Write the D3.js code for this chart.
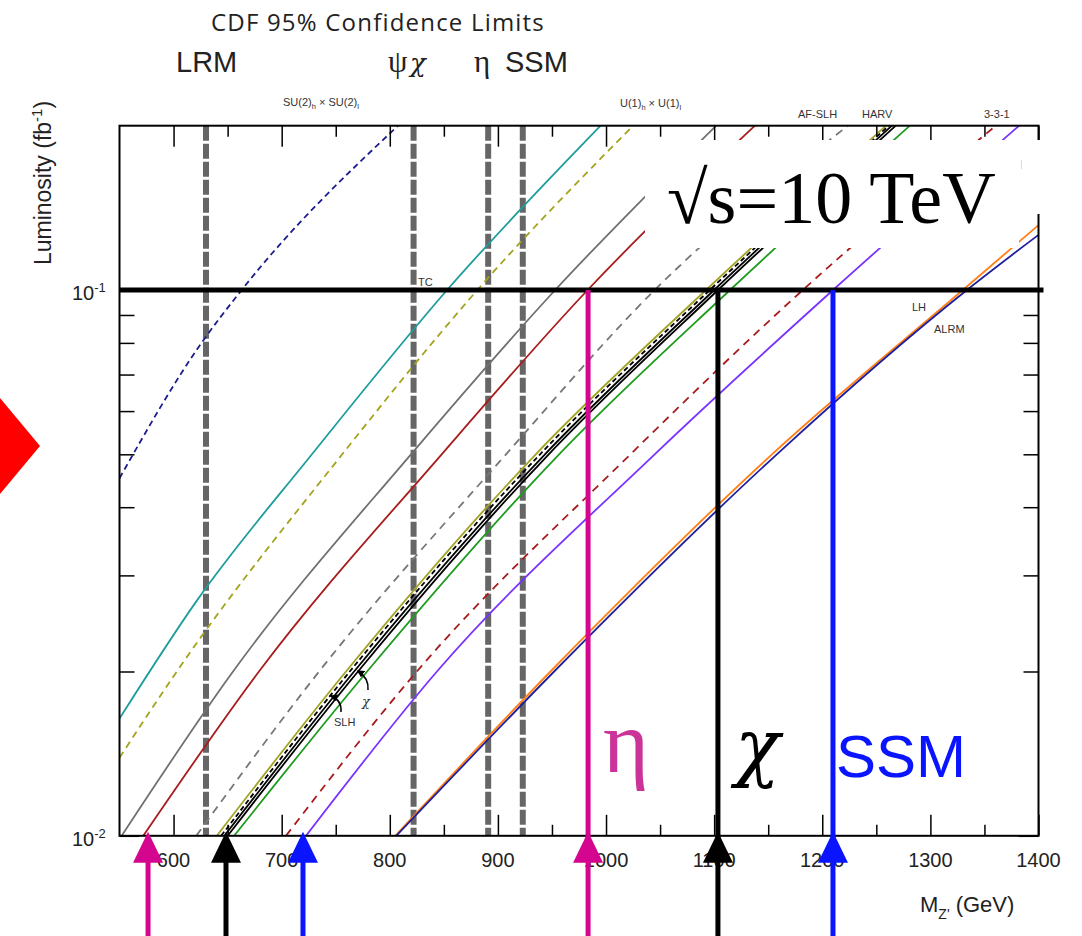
<!DOCTYPE html>
<html>
<head>
<meta charset="utf-8">
<script src="https://cdn.jsdelivr.net/npm/d3@7"></script>
<style>
  body { margin: 0; background: #fff; }
  svg { display: block; }
</style>
</head>
<body>
<svg id="chart" width="1082" height="936"></svg>
<script>
'use strict';

// axis values
const massDomain = [550, 1400];
const lumiDomain = [0.01, 0.2];
const massTicks = [600, 700, 800, 900, 1000, 1100, 1200, 1300, 1400];
const massMinor = [650, 750, 850, 950, 1050, 1150, 1250, 1350];
const lumiTicks = [0.01, 0.1];
const lumiMinor = [0.02, 0.03, 0.04, 0.05, 0.06, 0.07, 0.08, 0.09];

// CDF 95% limits (GeV)
const cdfLimits = [630, 822, 891, 923];

// reach curves, [mass GeV, luminosity fb^-1]
const navyDashed = [[550, 0.0452], [624.5, 0.0793], [663, 0.1], [807.6, 0.2]];
const cyanTC = [[550, 0.0164], [621.7, 0.027], [728, 0.05], [853, 0.1], [995, 0.2]];
const oliveDashed = [[550, 0.0139], [603, 0.02], [756, 0.05], [881, 0.1], [1025, 0.2]];
const graySolid = [[552, 0.01], [655, 0.02], [819.6, 0.05], [953, 0.1], [1101.7, 0.2]];
const redSolid = [[572, 0.01], [679, 0.02], [848, 0.05], [983, 0.1], [1137.7, 0.2]];
const grayDashed = [[621, 0.01], [734.6, 0.02], [907.5, 0.05], [1045, 0.1], [1223.8, 0.2]];
const oliveSolid = [[640, 0.01], [759.5, 0.02], [935, 0.05], [1092.5, 0.1], [1259, 0.2]];
const blackDashed = [[644, 0.01], [763, 0.02], [939, 0.05], [1096, 0.1], [1261.6, 0.2]];
const slhSolid = [[647, 0.01], [767, 0.02], [943.5, 0.05], [1100, 0.1], [1264.4, 0.2]];
const chiSolid = [[650, 0.01], [770.6, 0.02], [947, 0.05], [1103.6, 0.1], [1268, 0.2]];
const greenSolid = [[656, 0.01], [779, 0.02], [956.6, 0.05], [1114.7, 0.1], [1281, 0.2]];
const redDashed = [[704, 0.01], [825, 0.02], [1022.6, 0.05], [1182, 0.1], [1360.6, 0.2]];
const purpleSolid = [[722.5, 0.01], [843.6, 0.02], [1045, 0.05], [1210, 0.1], [1382, 0.2]];
const orangeLH = [[805, 0.01], [948.6, 0.02], [1153.5, 0.05], [1330, 0.1], [1400, 0.1315]];
const navyALRM = [[806, 0.01], [952, 0.02], [1158, 0.05], [1333.8, 0.1], [1400, 0.1262]];

// discovery reach at 0.1 and 0.01 fb^-1
const reachNames = ["eta", "chi", "ssm"];
const reachAt01 = [983.4, 1103.5, 1209.9];
const reachAt001 = [576.4, 648.5, 719.7];

// styles
const curveStyles = [
	{pts: navyDashed, color: "#1c1c8e", dash: "6 4"},
	{pts: cyanTC, color: "#1f9c9c", dash: null},
	{pts: oliveDashed, color: "#a3a31e", dash: "7 5"},
	{pts: graySolid, color: "#707070", dash: null},
	{pts: redSolid, color: "#a81c1c", dash: null},
	{pts: grayDashed, color: "#777777", dash: "8 6"},
	{pts: oliveSolid, color: "#a3a325", dash: null},
	{pts: blackDashed, color: "#000000", dash: "5 3"},
	{pts: slhSolid, color: "#000000", dash: null},
	{pts: chiSolid, color: "#000000", dash: null},
	{pts: greenSolid, color: "#1e9c1e", dash: null},
	{pts: redDashed, color: "#a81c1c", dash: "8 6"},
	{pts: purpleSolid, color: "#7a33ff", dash: null},
	{pts: orangeLH, color: "#ff7f15", dash: null},
	{pts: navyALRM, color: "#1f1f9e", dash: null}
];
const reachColors = ["#d4058f", "#000000", "#0a14ff"];

const SANS = "'Liberation Sans', Arial, sans-serif";
const SERIF = "'Liberation Serif', 'Times New Roman', serif";
const GREEK = "'DejaVu Serif', serif";

const svg = d3.select("#chart");
svg.append("rect").attr("width", 1082).attr("height", 936).attr("fill", "#fff");

const x = d3.scaleLinear().domain(massDomain).range([119.5, 1038.5]);
const y = d3.scaleLog().domain(lumiDomain).range([835.8, 125.7]);
const x0 = x.range()[0], x1 = x.range()[1];
const yb = y.range()[0], yt = y.range()[1];

// red marker at left edge
svg.append("path")
	.attr("d", "M0,398 L40,446 L0,494 Z")
	.attr("fill", "#ff0000");

svg.append("clipPath").attr("id", "plot")
	.append("rect").attr("x", x0).attr("y", yt).attr("width", x1 - x0).attr("height", yb - yt);

const plot = svg.append("g").attr("clip-path", "url(#plot)");

// CDF limit lines
plot.selectAll("line.cdf").data(cdfLimits).join("line")
	.attr("class", "cdf")
	.attr("x1", d => x(d)).attr("x2", d => x(d))
	.attr("y1", yt).attr("y2", yb)
	.attr("stroke", "#666").attr("stroke-width", 6)
	.attr("stroke-dasharray", "15 3");

// reach curves
const line = d3.line()
	.x(d => x(d[0]))
	.y(d => y(d[1]))
	.curve(d3.curveMonotoneX);

plot.selectAll("path.reach").data(curveStyles).join("path")
	.attr("class", "reach")
	.attr("d", d => line(d.pts))
	.attr("fill", "none")
	.attr("stroke", d => d.color)
	.attr("stroke-width", 1.8)
	.attr("stroke-dasharray", d => d.dash);

// axes ticks (inward)
const tickAxis = (axis, scale, values, size) => axis(scale).tickValues(values).tickSize(size).tickFormat("");
const axes = svg.append("g");
const addAxis = (axis, values, size, tx, ty, scale) => {
	const g = axes.append("g").attr("transform", `translate(${tx},${ty})`)
		.call(tickAxis(axis, scale, values, size));
	g.select(".domain").remove();
	g.selectAll("line").attr("stroke", "#000").attr("stroke-width", 1.5);
};
addAxis(d3.axisBottom, massTicks, -21, 0, yb, x);
addAxis(d3.axisBottom, massMinor, -11, 0, yb, x);
addAxis(d3.axisTop, massTicks, -21, 0, yt, x);
addAxis(d3.axisTop, massMinor, -11, 0, yt, x);
addAxis(d3.axisLeft, lumiTicks, -20, x0, 0, y);
addAxis(d3.axisLeft, lumiMinor, -15, x0, 0, y);
addAxis(d3.axisRight, lumiTicks, -20, x1, 0, y);
addAxis(d3.axisRight, lumiMinor, -15, x1, 0, y);

svg.append("rect")
	.attr("x", x0).attr("y", yt).attr("width", x1 - x0).attr("height", yb - yt)
	.attr("fill", "none").attr("stroke", "#000").attr("stroke-width", 2);

// thick 0.1 fb^-1 line
svg.append("line")
	.attr("x1", x0).attr("x2", x1 + 5)
	.attr("y1", y(0.1)).attr("y2", y(0.1))
	.attr("stroke", "#000").attr("stroke-width", 5);

// white box with energy label
svg.append("rect").attr("x", 645).attr("y", 140).attr("width", 374).attr("height", 108).attr("fill", "#fff");
svg.append("rect").attr("x", 1018).attr("y", 140).attr("width", 28).attr("height", 74).attr("fill", "#fff");
svg.append("clipPath").attr("id", "mclip")
	.append("rect").attr("x", 1021).attr("y", 150).attr("width", 10).attr("height", 30);
svg.append("text").attr("x", 1012).attr("y", 169)
	.attr("clip-path", "url(#mclip)")
	.attr("font-family", SANS).attr("font-size", 12).attr("fill", "#444").text("M");
svg.append("text").attr("x", 667).attr("y", 223)
	.attr("font-family", SERIF).attr("font-size", 74).attr("fill", "#000")
	.text("\u221As=10 TeV");

// tick labels
svg.append("g").selectAll("text").data(massTicks).join("text")
	.attr("x", d => x(d)).attr("y", 867)
	.attr("text-anchor", "middle")
	.attr("font-family", SANS).attr("font-size", 20).attr("fill", "#222")
	.text(d => d);

const ylab = svg.append("g").selectAll("text").data(lumiTicks).join("text")
	.attr("x", 72).attr("y", d => y(d) + 10)
	.attr("font-family", SANS).attr("font-size", 20).attr("fill", "#222");
ylab.append("tspan").text("10");
ylab.append("tspan").attr("dy", -8).attr("font-size", 13).text(d => d === 0.1 ? "-1" : "-2");

const ytitle = svg.append("text")
	.attr("transform", "translate(51,183) rotate(-90)")
	.attr("text-anchor", "middle")
	.attr("font-family", SANS).attr("font-size", 23).attr("fill", "#222");
ytitle.append("tspan").text("Luminosity (fb");
ytitle.append("tspan").attr("dy", -9).attr("font-size", 15).text("-1");
ytitle.append("tspan").attr("dy", 9).text(")");

const xtitle = svg.append("text").attr("x", 920).attr("y", 912)
	.attr("font-family", SANS).attr("font-size", 22).attr("fill", "#222");
xtitle.append("tspan").text("M");
xtitle.append("tspan").attr("dy", 7).attr("font-size", 14).text("Z'");
xtitle.append("tspan").attr("dy", -7).text(" (GeV)");

// header
svg.append("text").attr("x", 378).attr("y", 31).attr("text-anchor", "middle")
	.attr("font-family", "'Open Sans', sans-serif").attr("font-size", 24).attr("fill", "#222")
	.attr("letter-spacing", 1.2)
	.text("CDF 95% Confidence Limits");
const hdr = (tx, txt, fam, size, style) => svg.append("text").attr("x", tx).attr("y", 72)
	.attr("font-family", fam).attr("font-size", size).attr("fill", "#222")
	.attr("font-style", style || "normal").text(txt);
hdr(388, "\u03C8", SERIF, 31);
hdr(410, "\u03C7", GREEK, 26, "italic");
hdr(474, "\u03B7", SERIF, 31);
hdr(176, "LRM", SANS, 29);
hdr(505, "SSM", SANS, 29);

// small model labels
const small = (tx, ty, parts) => {
	const t = svg.append("text").attr("x", tx).attr("y", ty)
		.attr("font-family", SANS).attr("font-size", 11).attr("fill", "#333");
	parts.forEach(p => {
		const s = t.append("tspan").text(p[0]);
		if (p[1] === "sub") s.attr("dy", 3).attr("font-size", 7.5);
		if (p[1] === "up") s.attr("dy", -3);
	});
	return t;
};
small(283, 106, [["SU(2)"], ["h", "sub"], [" \u00D7 SU(2)", "up"], ["l", "sub"]]);
small(620, 107, [["U(1)"], ["h", "sub"], [" \u00D7 U(1)", "up"], ["l", "sub"]]);
small(798, 118, [["AF-SLH"]]);
small(862, 118, [["HARV"]]);
small(984, 118, [["3-3-1"]]);
small(418, 286, [["TC"]]);
small(912, 311, [["LH"]]);
small(934, 333, [["ALRM"]]);
small(334, 726, [["SLH"]]);
svg.append("text").attr("x", 362).attr("y", 706)
	.attr("font-family", GREEK).attr("font-style", "italic").attr("font-size", 13).attr("fill", "#333").text("\u03C7");

// curved pointer arrows
svg.append("defs").append("marker").attr("id", "ah")
	.attr("viewBox", "0 0 10 10").attr("refX", 8).attr("refY", 5)
	.attr("markerWidth", 5).attr("markerHeight", 5).attr("orient", "auto")
	.append("path").attr("d", "M0,0 L10,5 L0,10 Z").attr("fill", "#000");
svg.append("path").attr("d", "M341,712 Q342,700 331,696")
	.attr("fill", "none").attr("stroke", "#000").attr("stroke-width", 1.5).attr("marker-end", "url(#ah)");
svg.append("path").attr("d", "M368,690 Q369,678 358,671")
	.attr("fill", "none").attr("stroke", "#000").attr("stroke-width", 1.5).attr("marker-end", "url(#ah)");

// reach markers: vertical lines + arrows
const arrowHead = (cx, tip) => `M${cx},${tip} L${cx - 15},${tip + 31} L${cx + 15},${tip + 31} Z`;
reachNames.forEach((n, i) => {
	const c = reachColors[i];
	const xa = x(reachAt01[i]);
	const xb = x(reachAt001[i]);
	svg.append("line").attr("x1", xa).attr("x2", xa).attr("y1", y(0.1)).attr("y2", 936)
		.attr("stroke", c).attr("stroke-width", 5);
	svg.append("path").attr("d", arrowHead(xa, yb - 4)).attr("fill", c);
	svg.append("line").attr("x1", xb).attr("x2", xb).attr("y1", yb + 20).attr("y2", 936)
		.attr("stroke", c).attr("stroke-width", 5);
	svg.append("path").attr("d", arrowHead(xb, yb - 4)).attr("fill", c);
});

// big model labels
svg.append("text").attr("x", 603).attr("y", 772)
	.attr("font-family", SERIF).attr("font-size", 88).attr("fill", "#cc3399").text("\u03B7");
svg.append("text").attr("x", 735).attr("y", 772)
	.attr("font-family", GREEK).attr("font-style", "italic").attr("font-size", 74).attr("fill", "#000").text("\u03C7");
svg.append("text").attr("x", 836).attr("y", 777)
	.attr("font-family", SANS).attr("font-size", 60).attr("fill", "#0a14ff").text("SSM");
</script>
</body>
</html>
